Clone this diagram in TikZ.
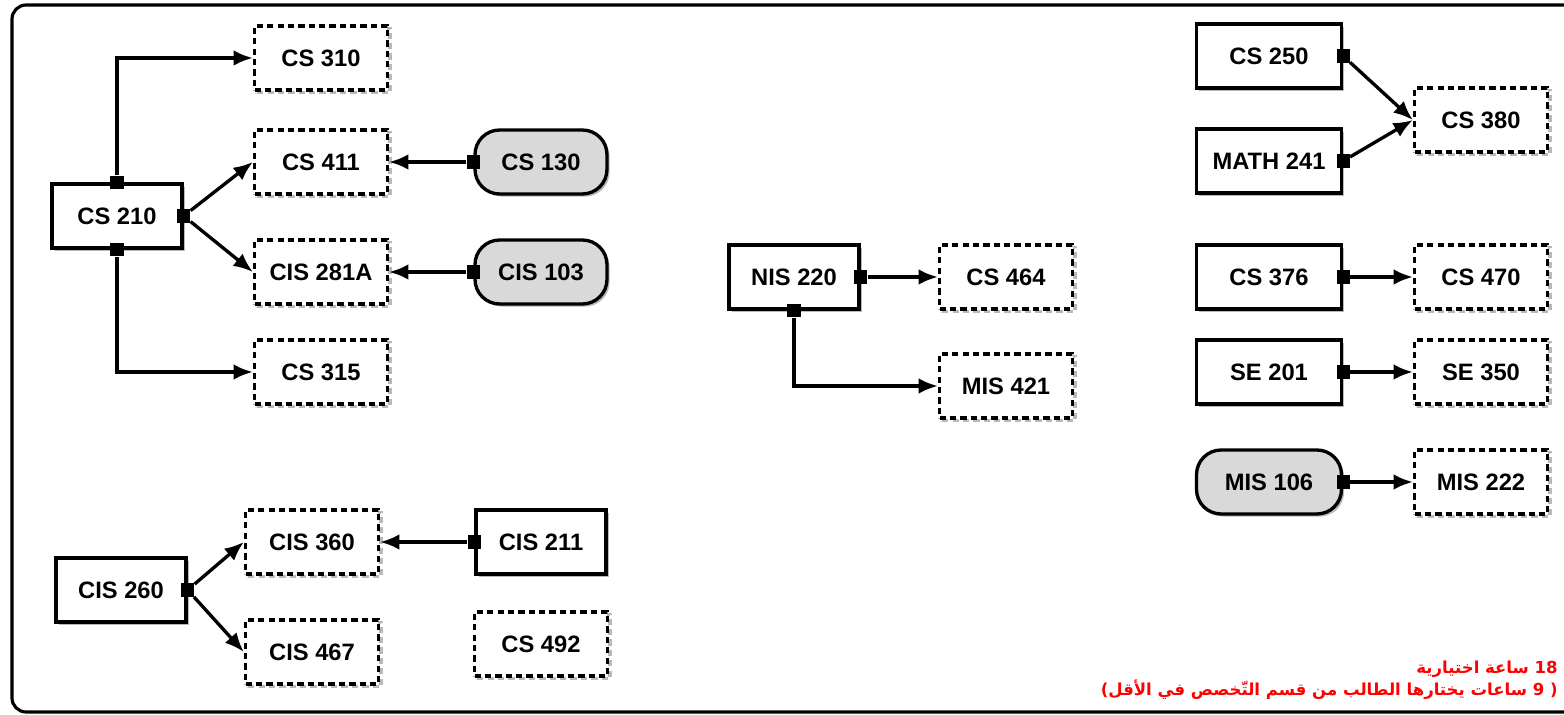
\documentclass[tikz,border=0pt]{standalone}
\usepackage{fontspec}
\setmainfont{Liberation Sans}
\newfontfamily\arabicfont[Script=Arabic]{DejaVu Sans}
\TeXXeTstate=1
\usepackage{xcolor}
\usetikzlibrary{arrows.meta,shadows}

\tikzset{
  box/.style={draw, line width=1.9pt, fill=white, minimum width=2.6cm,
    minimum height=1.28cm, inner sep=2pt,
    font=\fontsize{13.5}{16}\selectfont\bfseries},
  course/.style={box, drop shadow={shadow xshift=1.5pt, shadow yshift=-1.5pt, fill=black!55}},
  elective/.style={box, dash pattern=on 3.6pt off 2.3pt, minimum width=2.66cm,
    drop shadow={shadow xshift=1.5pt, shadow yshift=-1.5pt, fill=none,
      draw=black!55, line width=1.9pt, dash pattern=on 3.6pt off 2.3pt}},
  prereq/.style={course, fill=black!15, rounded corners=14pt, minimum width=2.64cm},
  port/.style={fill=black, inner sep=0pt, minimum size=7.5pt},
  link/.style={line width=1.9pt, -{Latex[length=11pt,width=9pt]}},
  note/.style={text=red, inner sep=0pt, font=\fontsize{9.4}{11}\arabicfont\bfseries},
}

\begin{document}
\begin{tikzpicture}[x=0.02cm,y=-0.02cm]
  \useasboundingbox (0,0) rectangle (1564,715);
  \draw[line width=1.8pt, rounded corners=8pt] (12,5) rectangle (1600,712);

  % required courses
  \foreach \n/\x/\y/\t in {cs210/117/216/CS 210, cis260/121/590/CIS 260,
                           cis211/541/542/CIS 211, nis220/794/277/NIS 220} {
    \node[course] (\n) at (\x,\y) {\t};
  }
  \node[course, minimum width=2.9cm] (cs250) at (1269,56) {CS 250};
  \node[course, minimum width=2.9cm] (math241) at (1269,161) {MATH 241};
  \node[course, minimum width=2.9cm] (cs376) at (1269,277) {CS 376};
  \node[course, minimum width=2.9cm] (se201) at (1269,372) {SE 201};

  % outside prerequisites
  \foreach \n/\x/\y/\t in {cs130/541/162/CS 130, cis103/541/272/CIS 103} {
    \node[prereq] (\n) at (\x,\y) {\t};
  }
  \node[prereq, minimum width=2.9cm] (mis106) at (1269,482) {MIS 106};

  % electives
  \foreach \n/\x/\y/\t in {cs310/321/58/CS 310, cs411/321/162/CS 411,
                           cis281a/321/272/CIS 281A, cs315/321/372/CS 315,
                           cis360/312/542/CIS 360, cis467/312/652/CIS 467,
                           cs492/541/644/CS 492, cs464/1006/277/CS 464,
                           mis421/1006/386/MIS 421, cs380/1481/120/CS 380,
                           cs470/1481/277/CS 470, se350/1481/372/SE 350,
                           mis222/1481/482/MIS 222} {
    \node[elective] (\n) at (\x,\y) {\t};
  }

  % ports
  \foreach \p/\a in {cs210/north, cs210/east, cs210/south, cs130/west,
                     cis103/west, cis260/east, cis211/west, nis220/east,
                     nis220/south, cs250/east, math241/east, cs376/east,
                     se201/east, mis106/east} {
    \node[port] (\p-\a) at (\p.\a) {};
  }

  \draw[link] (cs210-north) |- (cs310.west);
  \draw[link] (cs210-east) -- (cs411.west);
  \draw[link] (cs210-east) -- (cis281a.west);
  \draw[link] (cs210-south) |- (cs315.west);
  \draw[link] (cs130-west) -- (cs411.east);
  \draw[link] (cis103-west) -- (cis281a.east);
  \draw[link] (cis260-east) -- (cis360.west);
  \draw[link] (cis260-east) -- (cis467.west);
  \draw[link] (cis211-west) -- (cis360.east);
  \draw[link] (nis220-east) -- (cs464.west);
  \draw[link] (nis220-south) |- (mis421.west);
  \draw[link] (cs250-east) -- (cs380.west);
  \draw[link] (math241-east) -- (cs380.west);
  \draw[link] (cs376-east) -- (cs470.west);
  \draw[link] (se201-east) -- (se350.west);
  \draw[link] (mis106-east) -- (mis222.west);

  \node[note, anchor=base east] (note1) at (1558,673) {\beginR 18 ساعة اختيارية\endR};
  \node[note, anchor=base east] (note2) at (1558,695) {\beginR ( 9 ساعات يختارها الطالب من قسم التّخصص في الأقل)\endR};
\end{tikzpicture}
\end{document}
